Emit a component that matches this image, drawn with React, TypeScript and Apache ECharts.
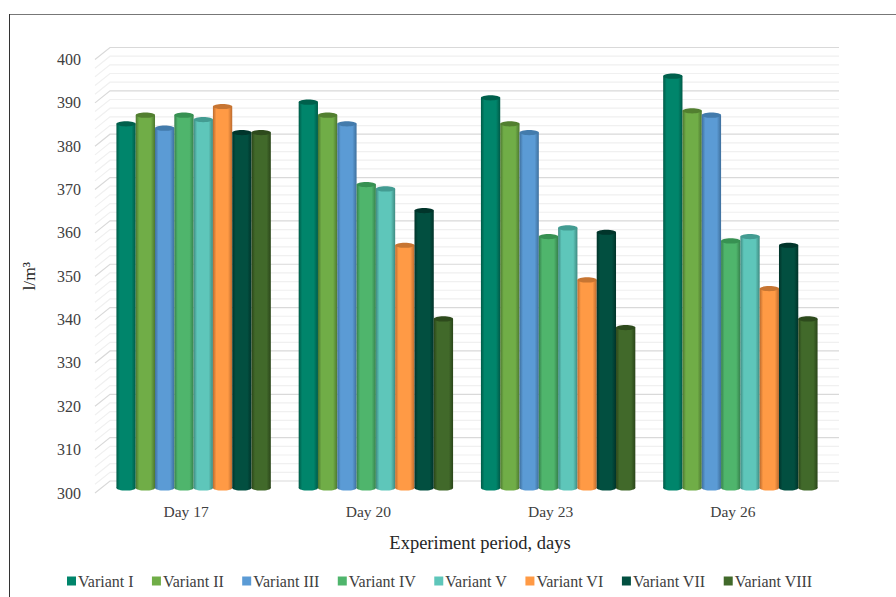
import React, { useEffect, useRef } from "react";
import * as echarts from "echarts";

const categories = ["Day 17", "Day 20", "Day 23", "Day 26"];
const variantNames = ["Variant I", "Variant II", "Variant III", "Variant IV", "Variant V", "Variant VI", "Variant VII", "Variant VIII"];
const variant1 = [384, 389, 390, 395];
const variant2 = [386, 386, 384, 387];
const variant3 = [383, 384, 382, 386];
const variant4 = [386, 370, 358, 357];
const variant5 = [385, 369, 360, 358];
const variant6 = [388, 356, 348, 346];
const variant7 = [382, 364, 359, 356];
const variant8 = [382, 339, 337, 339];
const variants = [variant1, variant2, variant3, variant4, variant5, variant6, variant7, variant8];
const wallTicks = [300, 302, 304, 306, 308, 310, 312, 314, 316, 318, 320, 322, 324, 326, 328, 330, 332, 334, 336, 338, 340, 342, 344, 346, 348, 350, 352, 354, 356, 358, 360, 362, 364, 366, 368, 370, 372, 374, 376, 378, 380, 382, 384, 386, 388, 390, 392, 394, 396, 398, 400];
const colors = ["#00856B", "#70AD47", "#5B9BD5", "#4FB56C", "#5EC6BA", "#FF9A45", "#024F40", "#41692A"];
const darkEdge = ["#005A47", "#4C7730", "#3E6F9C", "#35804C", "#3F8A81", "#BC6B2E", "#013329", "#2A4519"];
const capColor = ["#00604C", "#527F30", "#437BAC", "#379152", "#439C92", "#C77532", "#01352B", "#2D4A1C"];

const WALL_X = 15;
const WALL_Y = 12;
const BAR_X = 7.5;
const BAR_Y = 5;
const BAR_W = 19.3;

function App() {
  const ref = useRef<HTMLDivElement>(null);
  useEffect(() => {
    document.body.style.margin = "0";
    const chart = echarts.init(ref.current!, null, { renderer: "svg" });
    const font = "Liberation Serif";
    const wall = {
      type: "custom",
      silent: true,
      z: 1,
      clip: false,
      encode: { x: 0, y: 1 },
      data: wallTicks.map((t) => [0, t]),
      renderItem: (params: any, api: any) => {
        const v = api.value(1);
        const y = api.coord([0, v])[1];
        const left = params.coordSys.x;
        const right = left + params.coordSys.width;
        const major = v % 10 === 0;
        return {
          type: "polyline",
          shape: { points: [[left, y], [left + WALL_X, y - WALL_Y], [right + WALL_X, y - WALL_Y]] },
          style: { fill: "none", stroke: major ? "#D9D9D9" : "#F0F0F0", lineWidth: 1.2 },
        };
      },
    };
    const bars = variants.map((vals, idx) => ({
      type: "custom",
      name: variantNames[idx],
      z: 2 + idx,
      clip: false,
      itemStyle: { color: colors[idx] },
      encode: { x: 0, y: 1 },
      data: vals.map((v, i) => [i, v]),
      renderItem: (_p: any, api: any) => {
        const c = api.coord([api.value(0), api.value(1)]);
        const b = api.coord([api.value(0), 300]);
        const cx = c[0] + BAR_X + (idx - 3.5) * BAR_W;
        const topY = c[1] - BAR_Y;
        const baseY = b[1] - BAR_Y;
        const grad = new echarts.graphic.LinearGradient(0, 0, 1, 0, [
          { offset: 0, color: darkEdge[idx] },
          { offset: 0.18, color: colors[idx] },
          { offset: 0.78, color: colors[idx] },
          { offset: 1, color: darkEdge[idx] },
        ]);
        return {
          type: "group",
          children: [
            { type: "ellipse", shape: { cx, cy: baseY, rx: BAR_W / 2, ry: 2.6 }, style: { fill: grad } },
            { type: "rect", shape: { x: cx - BAR_W / 2, y: topY, width: BAR_W, height: baseY - topY }, style: { fill: grad } },
            { type: "ellipse", shape: { cx, cy: topY, rx: BAR_W / 2, ry: 2.6 }, style: { fill: capColor[idx] } },
          ],
        };
      },
    }));
    chart.setOption({
      animation: false,
      backgroundColor: "#ffffff",
      textStyle: { fontFamily: font },
      grid: { left: 95, top: 59.5, width: 729, height: 433.5 },
      xAxis: {
        type: "category",
        data: categories,
        name: "Experiment period, days",
        nameLocation: "middle",
        nameGap: 40,
        nameTextStyle: { fontFamily: font, fontSize: 18.5, color: "#262626", padding: [0, 0, 0, 41] },
        axisLine: { show: false },
        axisTick: { show: false },
        axisLabel: { fontFamily: font, fontSize: 15.5, color: "#404040", margin: 10 },
      },
      yAxis: {
        type: "value",
        min: 300,
        max: 400,
        interval: 10,
        name: "l/m³",
        nameLocation: "middle",
        nameGap: 57,
        nameTextStyle: { fontFamily: font, fontSize: 17.5, color: "#262626" },
        axisLine: { show: false },
        axisTick: { show: false },
        splitLine: { show: false },
        axisLabel: { fontFamily: font, fontSize: 16, color: "#404040", margin: 14 },
      },
      legend: {
        data: variantNames.map((name) => ({ name, icon: "rect" })),
        left: 62,
        top: 568,
        itemWidth: 9,
        itemHeight: 9,
        itemGap: 18.4,
        selectedMode: false,
        textStyle: { fontFamily: font, fontSize: 16, color: "#404040", padding: [0, 0, 0, -3] },
      },
      graphic: [
        { type: "line", silent: true, shape: { x1: 9.5, y1: 14.5, x2: 896, y2: 14.5 }, style: { stroke: "#777777", lineWidth: 1 } },
        { type: "line", silent: true, shape: { x1: 9.5, y1: 14, x2: 9.5, y2: 597 }, style: { stroke: "#333333", lineWidth: 1 } },
      ],
      series: [wall, ...bars],
    });
    return () => chart.dispose();
  }, []);
  return <div ref={ref} style={{ width: 896, height: 597 }} />;
}

export default App;
